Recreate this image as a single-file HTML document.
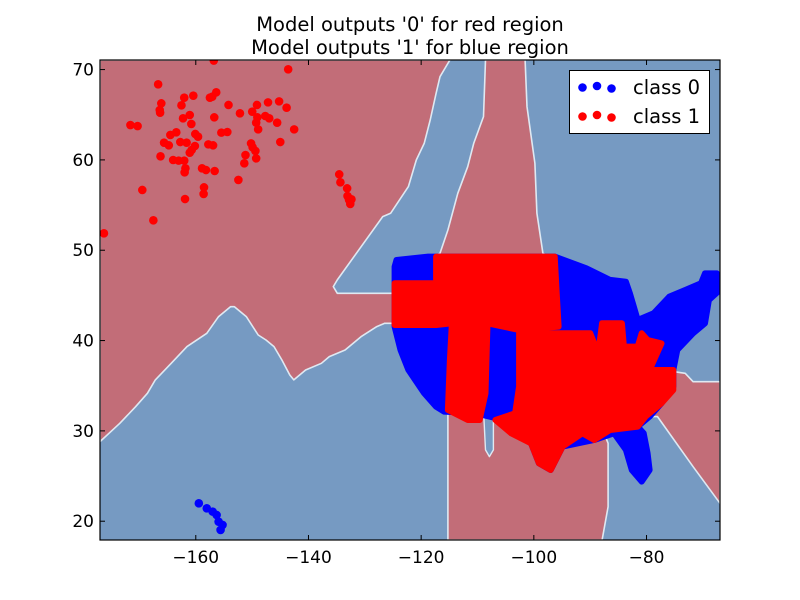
<!DOCTYPE html>
<html><head><meta charset="utf-8"><style>
html,body{margin:0;padding:0;background:#fff;}
body{position:relative;width:800px;height:600px;overflow:hidden;}
svg{display:block;font-family:"DejaVu Sans","Liberation Sans",sans-serif;}
</style></head><body>
<svg id="chart" width="800" height="600" viewBox="0 0 800 600" xmlns="http://www.w3.org/2000/svg">
<rect width="800" height="600" fill="#fff"/>
<text x="410" y="31" text-anchor="middle" font-size="19.5">Model outputs '0' for red region</text>
<text x="410" y="54" text-anchor="middle" font-size="19.5">Model outputs '1' for blue region</text>
<defs><clipPath id="pc"><rect x="100" y="60" width="620" height="480"/></clipPath></defs>
<g id="plot" clip-path="url(#pc)"></g>
<g id="axes"></g>
<g>
<rect x="569.5" y="70.5" width="140" height="63" fill="#fff" stroke="#000" stroke-width="1"/>
<g>
<circle cx="582.5" cy="87.5" r="4.3" fill="#0000ff"/><circle cx="597" cy="86" r="4.3" fill="#0000ff"/><circle cx="611.5" cy="88.5" r="4.3" fill="#0000ff"/>
<text x="633" y="94" font-size="19.5">class 0</text></g>
<g>
<circle cx="582.5" cy="116.5" r="4.3" fill="#ff0000"/><circle cx="597" cy="115" r="4.3" fill="#ff0000"/><circle cx="611.5" cy="117.5" r="4.3" fill="#ff0000"/>
<text x="633" y="123" font-size="19.5">class 1</text></g>
</g>
</svg>
<script>
const xDomain=[-177,-66.96], yDomain=[17.92,71.06];
const xTicks=[-160,-140,-120,-100,-80];
const yTicks=[20,30,40,50,60,70];
const redRegionLon=[-177,-114.89,-116.65,-117.35,-118.40,-119.46,-120.86,-122.26,-125.42,-126.82,-134.89,-135.60,-134.89,-123.67,-120.86,-116.65,-115.25,-113.49,-111.74,-110.68,-108.93,-108.58,-101.56,-101.21,-99.81,-99.46,-98.40,-96.30,-96.30,-89.28,-75.25,-73.14,-71.74,-66.96,-66.96,-71.74,-78.05,-80.16,-86.47,-87.53,-86.82,-86.82,-87.88,-115.25,-115.25,-115.95,-124.72,-126.47,-127.88,-130.68,-133.49,-136.30,-137.70,-140.51,-142.61,-143.32,-144.72,-146.12,-147.53,-148.93,-151.04,-153.14,-153.84,-155.95,-158.05,-161.56,-164.37,-167.18,-168.58,-170.68,-173.49,-177];
const redRegionLat=[71.06,71.06,69.21,67.37,64.42,61.83,59.99,57.04,54.09,53.72,46.71,45.97,45.23,45.23,48.18,49.66,52.24,56.30,59.25,61.83,64.79,71.06,71.06,65.89,59.62,54.09,49.66,48.92,41.54,37.85,36.56,36.37,35.45,35.45,21.98,26.04,31.58,31.58,30.47,29.73,28.62,21.61,17.92,17.92,32.31,41.54,41.91,41.91,41.54,40.43,38.96,38.22,37.48,36.74,35.64,36.19,37.85,39.33,40.06,40.62,42.65,43.75,43.75,42.65,40.80,39.33,37.48,35.64,34.16,32.68,30.84,28.81];
const blueSpikeLon=[-108.93,-108.58,-107.88,-107.18,-107.18];
const blueSpikeLat=[32.31,27.89,27.15,27.89,32.31];
const class0MainLon=[-124.37,-118.75,-96.30,-90.68,-86.47,-83.67,-82.96,-81.56,-78.75,-75.95,-73.14,-70.33,-69.63,-67.53,-66.96,-68.93,-69.63,-71.74,-74.54,-75.25,-75.25,-77.35,-79.46,-81.56,-80.51,-79.81,-79.46,-80.86,-82.61,-83.67,-85.77,-89.28,-94.89,-97.0,-99.11,-100.51,-103.32,-105.42,-107.88,-110.33,-115.95,-117.35,-119.46,-122.26,-123.67,-124.72,-124.72];
const class0MainLat=[48.92,49.29,49.29,48.00,46.71,46.52,45.23,42.28,43.02,44.86,45.60,46.34,47.44,47.44,45.60,44.49,41.91,40.80,38.96,36.74,34.90,33.05,31.58,30.47,29.73,27.52,25.67,24.38,25.67,27.89,29.73,28.99,28.26,25.67,26.41,28.62,30.10,31.21,31.58,31.95,32.13,32.68,34.16,36.74,38.96,41.54,48.18];
const class1NorthLon=[-124.72,-117.35,-117.35,-96.30,-95.95,-95.60,-102.61,-108.23,-114.54,-117.35,-124.72];
const class1NorthLat=[46.34,46.34,49.29,49.29,45.23,41.54,41.17,41.91,41.91,41.72,41.72];
const class1WestLon=[-114.54,-108.23,-108.58,-109.63,-111.74,-115.25,-114.89];
const class1WestLat=[41.91,41.91,34.16,31.21,31.21,32.31,37.85];
const class1SouthLon=[-102.61,-89.98,-88.58,-87.88,-84.37,-84.02,-81.56,-80.86,-79.81,-77.35,-79.46,-75.25,-75.25,-77.35,-80.16,-81.56,-86.47,-89.28,-91.39,-94.89,-97.0,-99.11,-100.51,-104.02,-106.82,-103.32,-102.61];
const class1SouthLat=[40.80,40.80,38.59,41.91,41.91,39.33,39.33,40.80,40.06,39.69,36.74,36.74,34.53,33.05,31.58,30.47,30.10,28.99,29.73,28.26,25.67,26.41,28.62,29.73,31.21,31.95,34.90];
const class1ScatterLon=[-156.8,-143.60,-166.68,-162.05,-160.44,-157.49,-157.07,-156.37,-166.12,-162.54,-166.40,-166.33,-154.19,-149.14,-147.18,-145.21,-143.88,-149.98,-152.16,-161.07,-162.26,-156.72,-149.07,-147.67,-146.96,-149.28,-145.56,-171.60,-170.33,-160.79,-148.93,-142.54,-163.46,-164.51,-160.09,-159.60,-155.46,-154.40,-165.63,-164.79,-162.75,-161.63,-160.16,-157.77,-156.93,-150.19,-149.91,-149.42,-145.00,-160.72,-161.07,-166.26,-164.02,-163.04,-162.05,-161.84,-161.98,-158.89,-158.19,-156.65,-151.18,-149.28,-151.39,-152.44,-158.54,-158.61,-169.49,-161.91,-167.53,-176.30,-134.54,-134.33,-133.14,-133.07,-132.79,-132.58,-132.37];
const class1ScatterLat=[71.0,70.03,68.37,66.89,67.11,66.89,67.00,67.48,66.26,66.04,65.52,65.23,66.08,66.08,66.37,66.48,65.78,65.34,65.16,64.97,64.60,64.71,64.71,64.86,64.60,64.12,64.12,63.86,63.75,63.98,63.38,63.38,63.05,62.76,62.87,62.57,63.02,63.09,61.91,61.61,61.98,61.91,61.54,61.72,61.61,61.83,61.39,60.99,61.98,61.10,60.80,60.40,59.99,59.92,59.92,59.07,58.62,59.07,58.88,58.77,60.54,60.17,59.62,57.78,56.96,56.23,56.67,55.67,53.31,51.87,58.40,57.52,56.85,56.00,55.56,55.12,55.64];
const class0ScatterLon=[-159.46,-158.05,-157.0,-156.3,-155.95,-155.25,-155.6];
const class0ScatterLat=[21.98,21.43,21.06,20.69,19.95,19.59,19.03];

const PX0=100,PX1=720,PY0=540,PY1=60;
const sx=v=>PX0+(v-xDomain[0])/(xDomain[1]-xDomain[0])*(PX1-PX0);
const sy=v=>PY0-(v-yDomain[0])/(yDomain[1]-yDomain[0])*(PY0-PY1);
const NS="http://www.w3.org/2000/svg";
const plot=document.getElementById('plot'), axes=document.getElementById('axes');
function pts(lons,lats){return lons.map((v,i)=>sx(v).toFixed(1)+','+sy(lats[i]).toFixed(1)).join(' ');}
function poly(parent,lons,lats,fill,stroke,sw){const p=document.createElementNS(NS,'polygon');p.setAttribute('points',pts(lons,lats));p.setAttribute('fill',fill);if(stroke){p.setAttribute('stroke',stroke);p.setAttribute('stroke-width',sw);p.setAttribute('stroke-linejoin','round');}parent.appendChild(p);return p;}

const bg=document.createElementNS(NS,'rect');
bg.setAttribute('x',100);bg.setAttribute('y',60);bg.setAttribute('width',620);bg.setAttribute('height',480);bg.setAttribute('fill','#769ac2');


plot.appendChild(bg);
let r=poly(plot,redRegionLon,redRegionLat,'#c26d78','#dfe9f2',1.6);


let s=poly(plot,blueSpikeLon,blueSpikeLat,'#769ac2','#dfe9f2',1.4);


let m0=poly(plot,class0MainLon,class0MainLat,'#0000ff','#0000ff',6);


[[class1NorthLon,class1NorthLat,'class-1-north-points'],[class1WestLon,class1WestLat,'class-1-west-points'],[class1SouthLon,class1SouthLat,'class-1-south-points']].forEach(a=>{
  const p=poly(plot,a[0],a[1],'#ff0000','#ff0000',6);
  
  
});
function dots(lons,lats,color,name){lons.forEach((v,i)=>{const c=document.createElementNS(NS,'circle');c.setAttribute('cx',sx(v));c.setAttribute('cy',sy(lats[i]));c.setAttribute('r',4.3);c.setAttribute('fill',color);
  
  
  plot.appendChild(c);});}
dots(class1ScatterLon,class1ScatterLat,'#ff0000','class-1-point');
dots(class0ScatterLon,class0ScatterLat,'#0000ff','class-0-point');

const fr=document.createElementNS(NS,'rect');
fr.setAttribute('x',100);fr.setAttribute('y',60);fr.setAttribute('width',620);fr.setAttribute('height',480);fr.setAttribute('fill','none');fr.setAttribute('stroke','#000');fr.setAttribute('stroke-width',1.2);


axes.appendChild(fr);
function line(x1,y1,x2,y2){const l=document.createElementNS(NS,'line');l.setAttribute('x1',x1);l.setAttribute('y1',y1);l.setAttribute('x2',x2);l.setAttribute('y2',y2);l.setAttribute('stroke','#000');l.setAttribute('stroke-width',1);axes.appendChild(l);return l;}
function label(x,y,t,anchor,name){const e=document.createElementNS(NS,'text');e.setAttribute('x',x);e.setAttribute('y',y);e.setAttribute('text-anchor',anchor);e.setAttribute('font-size',17);e.textContent=t;
  
  
  axes.appendChild(e);}
xTicks.forEach(v=>{const x=sx(v);
  const a=line(x,540,x,535);
  const b=line(x,60,x,65);
  label(x,563,'\u2212'+Math.abs(v),'middle','x-tick-label');});
yTicks.forEach(v=>{const y=sy(v);
  const a=line(100,y,105,y);
  const b=line(720,y,715,y);
  label(94,y+6,String(v),'end','y-tick-label');});
</script>
</body></html>
